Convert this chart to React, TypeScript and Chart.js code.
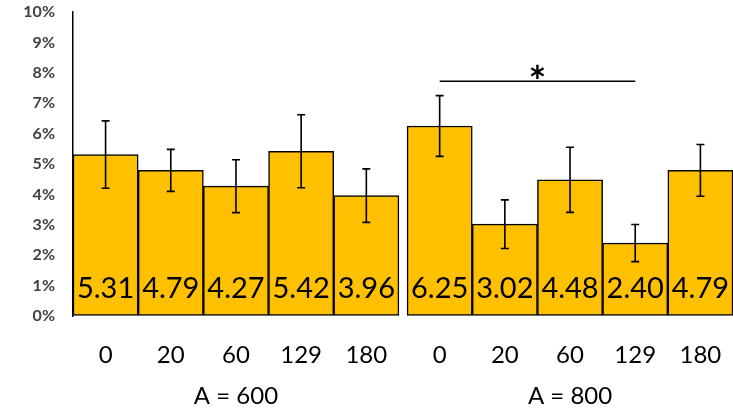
import React, { useEffect, useRef } from 'react';
import { Chart, registerables } from 'chart.js';

Chart.register(...registerables);

// ---- data ----
const DOSES = ['0', '20', '60', '129', '180'];
const GROUPS = ['A = 600', 'A = 800'];
const VALUES_600 = [5.31, 4.79, 4.27, 5.42, 3.96];
const VALUES_800 = [6.25, 3.02, 4.48, 2.4, 4.79];
const ERR_600 = [1.11, 0.69, 0.87, 1.2, 0.88];
const ERR_800 = [1.0, 0.8, 1.07, 0.61, 0.85];
const Y_MIN = 0;
const Y_MAX = 10;
const Y_STEP = 1;
// significance bracket: group index, from dose index, to dose index, level (%), mark
const SIG_GROUP = 1;
const SIG_FROM = 0;
const SIG_TO = 3;
const SIG_LEVEL = 7.72;
const SIG_MARK = '*';

// ---- layout constants ----
const GROUP_GAP = 0.125; // gap between groups, in bar widths
const FONT = 'Lato, "Open Sans", sans-serif';

const GROUP_VALUES = [VALUES_600, VALUES_800];
const GROUP_ERRS = [ERR_600, ERR_800];

type Pt = { x: number; y: number; err: number; label: string; group: number };
const POINTS: Pt[] = [];
GROUPS.forEach((_, g) => {
  DOSES.forEach((d, i) => {
    POINTS.push({
      x: g * (DOSES.length + GROUP_GAP) + i,
      y: GROUP_VALUES[g][i],
      err: GROUP_ERRS[g][i],
      label: d,
      group: g,
    });
  });
});

const overlay = {
  id: 'overlay',
  afterDatasetsDraw(chart: any) {
    const ctx = chart.ctx;
    const ys = chart.scales.y;
    const xs = chart.scales.x;
    const meta = chart.getDatasetMeta(0);
    const base = ys.getPixelForValue(0);
    ctx.save();
    // value labels
    ctx.fillStyle = '#000';
    ctx.font = `29px ${FONT}`;
    ctx.textAlign = 'center';
    ctx.textBaseline = 'alphabetic';
    meta.data.forEach((bar: any, k: number) => {
      ctx.fillText(POINTS[k].y.toFixed(2), bar.x, base - 18);
    });
    // error bars
    ctx.strokeStyle = '#000';
    ctx.lineWidth = 1.6;
    const cap = 4;
    meta.data.forEach((bar: any, k: number) => {
      const p = POINTS[k];
      const yt = ys.getPixelForValue(p.y + p.err);
      const yb = ys.getPixelForValue(p.y - p.err);
      ctx.beginPath();
      ctx.moveTo(bar.x, yt);
      ctx.lineTo(bar.x, yb);
      ctx.moveTo(bar.x - cap, yt);
      ctx.lineTo(bar.x + cap, yt);
      ctx.moveTo(bar.x - cap, yb);
      ctx.lineTo(bar.x + cap, yb);
      ctx.stroke();
    });
    // significance bracket
    const a = POINTS.find((p) => p.group === SIG_GROUP && p.label === DOSES[SIG_FROM])!;
    const b = POINTS.find((p) => p.group === SIG_GROUP && p.label === DOSES[SIG_TO])!;
    const xa = xs.getPixelForValue(a.x);
    const xb = xs.getPixelForValue(b.x);
    const ySig = ys.getPixelForValue(SIG_LEVEL);
    ctx.lineWidth = 1.5;
    ctx.beginPath();
    ctx.moveTo(xa, ySig);
    ctx.lineTo(xb, ySig);
    ctx.stroke();
    ctx.font = `bold 42px ${FONT}`;
    ctx.textBaseline = 'alphabetic';
    ctx.fillText(SIG_MARK, (xa + xb) / 2, ySig + 16);
    ctx.restore();
  },
  afterDraw(chart: any) {
    const ctx = chart.ctx;
    const xs = chart.scales.x;
    ctx.save();
    ctx.fillStyle = '#000';
    ctx.font = `24px ${FONT}`;
    ctx.textAlign = 'center';
    ctx.textBaseline = 'middle';
    GROUPS.forEach((name, g) => {
      const pts = POINTS.filter((p) => p.group === g);
      const cx = (xs.getPixelForValue(pts[0].x) + xs.getPixelForValue(pts[pts.length - 1].x)) / 2;
      ctx.fillText(name, cx, chart.chartArea.bottom + 80);
    });
    ctx.restore();
  },
};

export default function App() {
  const ref = useRef<HTMLCanvasElement | null>(null);
  useEffect(() => {
    if (!ref.current) return;
    const chart = new Chart(ref.current, {
      type: 'bar',
      data: {
        datasets: [
          {
            data: POINTS.map((p) => ({ x: p.x, y: p.y })),
            backgroundColor: '#FFC000',
            borderColor: '#000',
            borderWidth: 1.5,
            borderSkipped: false,
            barPercentage: 1,
            categoryPercentage: 1,
          },
        ],
      },
      options: {
        animation: false,
        responsive: true,
        maintainAspectRatio: false,
        layout: { padding: { top: 12, right: 0, left: 0, bottom: 0 } },
        plugins: { legend: { display: false }, tooltip: { enabled: false } },
        scales: {
          x: {
            type: 'linear',
            offset: false,
            min: POINTS[0].x - 0.5,
            max: POINTS[POINTS.length - 1].x + 0.5,
            grid: { display: true, drawOnChartArea: false, drawTicks: false },
            border: { display: false },
            afterBuildTicks: (axis: any) => {
              axis.ticks = POINTS.map((p) => ({ value: p.x }));
            },
            afterFit: (axis: any) => {
              axis.height = 96;
              axis.paddingLeft = 0;
              axis.paddingRight = 0;
            },
            ticks: {
              autoSkip: false,
              maxRotation: 0,
              padding: 25,
              color: '#000',
              font: { family: FONT, size: 24 },
              callback: (_v: any, i: number) => POINTS[i].label,
            },
          },
          y: {
            min: Y_MIN,
            max: Y_MAX,
            grid: { display: true, drawOnChartArea: false, drawTicks: false },
            border: { display: true, color: '#000', width: 1.5 },
            afterFit: (axis: any) => {
              axis.width = 73;
              axis.paddingTop = 0;
              axis.paddingBottom = 0;
            },
            ticks: {
              stepSize: Y_STEP,
              padding: 18,
              color: '#404040',
              font: { family: FONT, size: 16, weight: 'bold' },
              callback: (v: any) => `${v}%`,
            },
          },
        },
      },
      plugins: [overlay],
    });
    return () => chart.destroy();
  }, []);
  return (
    <div style={{ position: 'absolute', left: 0, top: 0, width: 733, height: 412 }}>
      <canvas ref={ref} />
    </div>
  );
}
